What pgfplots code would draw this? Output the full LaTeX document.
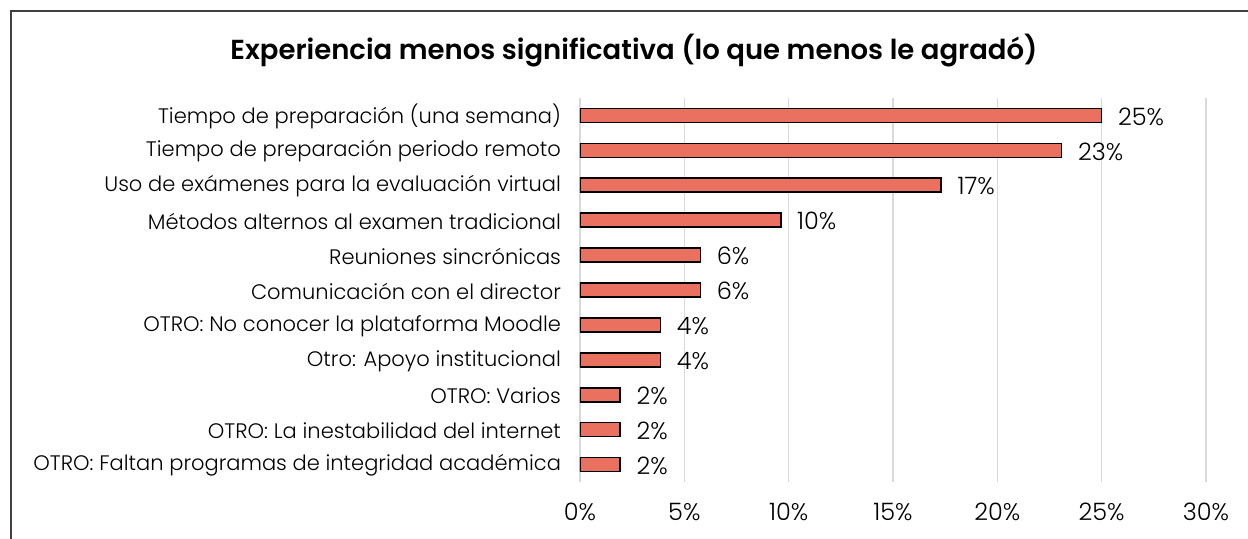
\documentclass[border=0pt]{standalone}
\usepackage{fontspec}
\setmainfont{Poppins Light}[BoldFont=Poppins SemiBold]
\usepackage{pgfplots}
\pgfplotsset{compat=1.18}
\definecolor{barfill}{RGB}{234,112,96}
\definecolor{gridc}{RGB}{217,217,217}
\definecolor{framec}{RGB}{64,64,64}
\begin{document}
\begin{tikzpicture}[x=1pt,y=1pt]
\useasboundingbox (0,0) rectangle (624,269);
\draw[framec, line width=1pt] (5.5,-2) -- (5.5,263.5) -- (630,263.5);
\node[font=\bfseries\fontsize{13.75}{15}\selectfont] at (317,243.5) {Experiencia menos significativa (lo que menos le agradó)};
\begin{axis}[
  at={(290pt,28pt)}, anchor=south west,
  scale only axis, width=313pt, height=192pt,
  xbar, bar width=7pt,
  xmin=0, xmax=30,
  ymin=-0.5, ymax=10.5, y dir=reverse,
  ytick={0,...,10},
  yticklabels={Tiempo de preparación (una semana),Tiempo de preparación periodo remoto,Uso de exámenes para la evaluación virtual,Métodos alternos al examen tradicional,Reuniones sincrónicas,Comunicación con el director,OTRO: No conocer la plataforma Moodle,Otro: Apoyo institucional,OTRO: Varios,OTRO: La inestabilidad del internet,OTRO: Faltan programas de integridad académica},
  xtick={0,5,...,30},
  xticklabel={\pgfmathprintnumber{\tick}\%},
  /pgf/number format/assume math mode=true,
  axis line style={draw=none},
  major tick length=0pt,
  xmajorgrids, grid style={gridc, line width=0.8pt},
  y tick label style={font=\fontsize{10.5}{12}\selectfont, text=black, xshift=-6pt, yshift=-0.5pt},
  x tick label style={font=\fontsize{12}{14}\selectfont, text=black, yshift=-7pt},
  nodes near coords={\pgfmathprintnumber[fixed,precision=0]{\pgfplotspointmeta}\%},
  nodes near coords style={font=\fontsize{12}{14}\selectfont, text=black, anchor=west, xshift=4.5pt, yshift=-0.5pt},
  point meta=explicit,
]
\addplot[draw=black, line width=0.8pt, fill=barfill] coordinates {
(25.00,0) [25.00]
(23.08,1) [23.08]
(17.31,2) [17.31]
(9.62,3) [9.62]
(5.77,4) [5.77]
(5.77,5) [5.77]
(3.85,6) [3.85]
(3.85,7) [3.85]
(1.92,8) [1.92]
(1.92,9) [1.92]
(1.92,10) [1.92]
};
\end{axis}
\end{tikzpicture}
\end{document}
